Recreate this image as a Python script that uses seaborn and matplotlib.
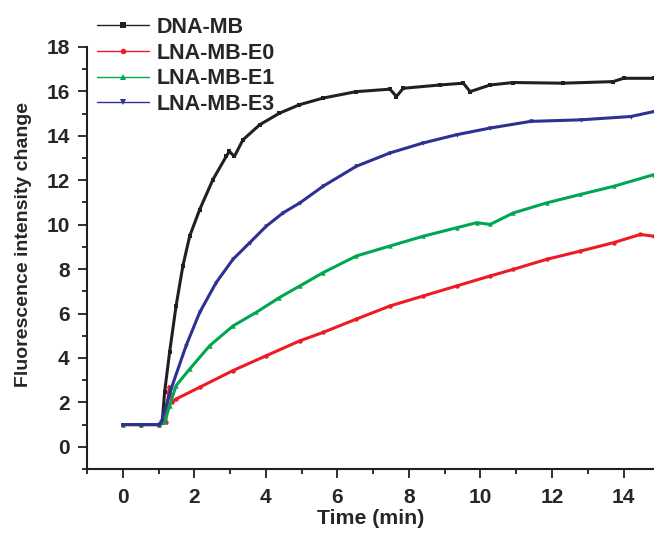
import numpy as np
import pandas as pd
import matplotlib
matplotlib.use("Agg")
import matplotlib.pyplot as plt
from matplotlib.lines import Line2D
from matplotlib.ticker import MultipleLocator
import seaborn as sns

# --- values ---
labels = ["DNA-MB", "LNA-MB-E0", "LNA-MB-E1", "LNA-MB-E3"]

dna_x = [0, 0.5, 1.0, 1.1, 1.17, 1.31, 1.49, 1.68, 1.87, 2.15, 2.52, 2.89, 2.98, 3.12, 3.36,
         3.83, 4.38, 4.94, 5.6, 6.53, 7.47, 7.65, 7.84, 8.87, 9.52, 9.71, 10.27, 10.92,
         12.3, 13.7, 14.0, 14.84]
dna_y = [1.0, 1.0, 1.0, 1.05, 2.47, 4.26, 6.34, 8.14, 9.48, 10.68, 12.03, 13.07, 13.3, 13.07, 13.82,
         14.5, 15.02, 15.4, 15.7, 15.99, 16.1, 15.77, 16.14, 16.29, 16.37, 15.99, 16.29, 16.4,
         16.37, 16.44, 16.59, 16.59]

e0_x = [0, 0.5, 1.0, 1.2, 1.3, 1.38, 1.49, 2.15, 3.08, 4.01, 4.95, 5.6, 6.53, 7.47, 8.4,
        9.33, 10.27, 10.92, 11.85, 12.79, 13.72, 14.47, 14.84]
e0_y = [1.0, 1.0, 1.0, 1.12, 2.7, 2.0, 2.15, 2.68, 3.43, 4.1, 4.77, 5.15, 5.75, 6.34, 6.79,
        7.24, 7.69, 7.99, 8.44, 8.81, 9.19, 9.56, 9.48]

e1_x = [0, 0.5, 1.0, 1.17, 1.31, 1.49, 1.87, 2.43, 3.08, 3.73, 4.38, 4.95, 5.6, 6.53, 7.47,
        8.4, 9.33, 9.9, 10.27, 10.92, 11.85, 12.79, 13.73, 14.84]
e1_y = [1.0, 1.0, 1.0, 1.12, 1.85, 2.75, 3.5, 4.55, 5.44, 6.05, 6.72, 7.24, 7.84, 8.59, 9.04,
        9.48, 9.86, 10.09, 10.01, 10.53, 10.98, 11.36, 11.73, 12.25]

e3_x = [0, 0.5, 1.0, 1.08, 1.35, 1.77, 2.15, 2.61, 3.08, 3.55, 4.01, 4.48, 4.95, 5.6, 6.53,
        7.47, 8.4, 9.33, 10.27, 11.4, 12.8, 14.2, 14.84]
e3_y = [1.0, 1.0, 1.0, 1.12, 2.6, 4.55, 6.05, 7.39, 8.44, 9.19, 9.93, 10.53, 10.98, 11.73, 12.63,
        13.23, 13.68, 14.05, 14.35, 14.65, 14.72, 14.87, 15.09]

colors = ["#231f20", "#ed1c24", "#00a651", "#2e3192"]
markers = ["s", "o", "^", "v"]

df = pd.concat([
    pd.DataFrame({"time": dna_x, "fl": dna_y, "probe": labels[0]}),
    pd.DataFrame({"time": e0_x, "fl": e0_y, "probe": labels[1]}),
    pd.DataFrame({"time": e1_x, "fl": e1_y, "probe": labels[2]}),
    pd.DataFrame({"time": e3_x, "fl": e3_y, "probe": labels[3]}),
], ignore_index=True)

sns.set_style("ticks")
plt.rcParams["font.family"] = ["Liberation Sans", "DejaVu Sans"]
plt.rcParams["font.weight"] = "bold"

fig = plt.figure(figsize=(6.54, 5.4), dpi=100)
ax = fig.add_axes([0.133, 0.1315, 0.867, 0.7815])

sns.lineplot(data=df, x="time", y="fl", hue="probe", style="probe",
             palette=dict(zip(labels, colors)), markers=dict(zip(labels, markers)),
             dashes=False, sort=False, lw=2.2, markersize=3.2, markeredgewidth=0,
             legend=False, ax=ax)

ax.set_xlim(-1, 14.85)
ax.set_ylim(-1, 18)
ax.xaxis.set_major_locator(MultipleLocator(2))
ax.xaxis.set_minor_locator(MultipleLocator(1))
ax.yaxis.set_major_locator(MultipleLocator(2))
ax.yaxis.set_minor_locator(MultipleLocator(1))
ax.tick_params(which="major", length=6.5, width=1.3, labelsize=15, color="#231f20")
ax.tick_params(which="minor", length=3.6, width=1.3, color="#231f20")
ax.tick_params(axis="x", which="major", pad=7.5)
ax.tick_params(axis="y", which="major", pad=6)
for lab in ax.get_xticklabels() + ax.get_yticklabels():
    lab.set_fontweight("bold")

sns.despine(ax=ax)
for s in ["left", "bottom"]:
    ax.spines[s].set_linewidth(1.5)
    ax.spines[s].set_color("#231f20")

ax.set_xlabel("Time (min)", fontsize=15.3, fontweight="bold", labelpad=1)
ax.set_ylabel("Fluorescence intensity change", fontsize=14, fontweight="bold")
ax.yaxis.set_label_coords(-0.097, 0.531)

handles = [Line2D([], [], color=c, marker=m, lw=1.0, markersize=4, markeredgewidth=0)
           for c, m in zip(colors, markers)]
leg = ax.legend(handles, labels, loc="upper left", bbox_to_anchor=(0.002, 1.092),
                frameon=False, fontsize=15.5, handlelength=2.45, handletextpad=0.33,
                labelspacing=0.22, borderaxespad=0)
for t in leg.get_texts():
    t.set_fontweight("bold")

fig.savefig("out.png", dpi=100)
